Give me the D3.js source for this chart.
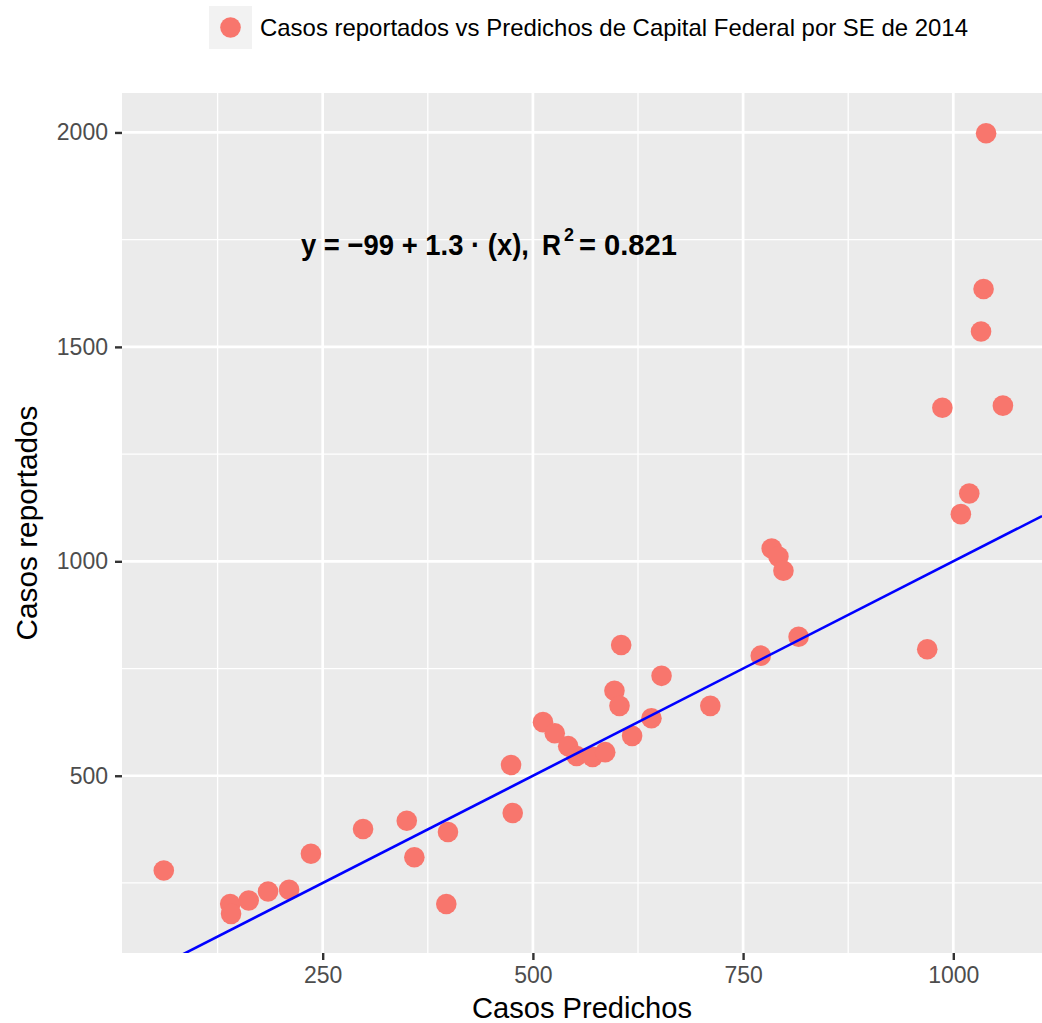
<!DOCTYPE html>
<html>
<head>
<meta charset="utf-8">
<script src="https://cdn.jsdelivr.net/npm/d3@7"></script>
<style>
  html, body { margin: 0; padding: 0; background: #ffffff; }
  svg { display: block; }
  text { font-family: "Liberation Sans", Arial, Helvetica, sans-serif; }
</style>
</head>
<body>
<svg id="chart" width="1042" height="1023"></svg>
<script>
// ---- data ----
const predichos = [61, 140, 141, 162, 185, 210, 236, 298, 350, 359, 397, 399, 474, 476, 512, 526, 542, 552, 571, 586, 597, 603, 605, 618, 641, 653, 711, 771, 784, 792, 798, 816, 969, 987, 1009, 1019, 1033, 1036, 1039, 1059];
const reportados = [279, 201, 178, 209, 230, 234, 318, 376, 395, 310, 201, 369, 525, 413, 625, 599, 569, 546, 544, 555, 698, 663, 805, 593, 634, 733, 663, 780, 1030, 1011, 978, 824, 795, 1358, 1110, 1158, 1536, 1635, 1998, 1363];
const xTicks = [250, 500, 750, 1000];
const yTicks = [500, 1000, 1500, 2000];
const xMinor = [125, 375, 625, 875];
const yMinor = [250, 750, 1250, 1750];
const xDomain = [11.3, 1105.5];
const yDomain = [86.7, 2092];
const refLine = { intercept: 0, slope: 1 };
const legendLabel = "Casos reportados vs Predichos de Capital Federal por SE de 2014";
const xTitle = "Casos Predichos";
const yTitle = "Casos reportados";
const eqParts = ["y = \u221299 + 1.3 \u00B7 (x),", "R", "2", "= 0.821"];

// ---- layout ----
const panel = { left: 122, right: 1042, top: 93, bottom: 953 };
const svg = d3.select("#chart");

const x = d3.scaleLinear().domain(xDomain).range([panel.left, panel.right]);
const y = d3.scaleLinear().domain(yDomain).range([panel.bottom, panel.top]);

// panel background
svg.append("rect")
  .attr("x", panel.left).attr("y", panel.top)
  .attr("width", panel.right - panel.left).attr("height", panel.bottom - panel.top)
  .attr("fill", "#EBEBEB");

svg.append("clipPath").attr("id", "clip")
  .append("rect")
  .attr("x", panel.left).attr("y", panel.top)
  .attr("width", panel.right - panel.left).attr("height", panel.bottom - panel.top);

const grid = svg.append("g");
grid.selectAll(".xminor").data(xMinor).join("line")
  .attr("x1", d => x(d)).attr("x2", d => x(d))
  .attr("y1", panel.top).attr("y2", panel.bottom)
  .attr("stroke", "#ffffff").attr("stroke-width", 1.3);
grid.selectAll(".yminor").data(yMinor).join("line")
  .attr("y1", d => y(d)).attr("y2", d => y(d))
  .attr("x1", panel.left).attr("x2", panel.right)
  .attr("stroke", "#ffffff").attr("stroke-width", 1.3);
grid.selectAll(".xmajor").data(xTicks).join("line")
  .attr("x1", d => x(d)).attr("x2", d => x(d))
  .attr("y1", panel.top).attr("y2", panel.bottom)
  .attr("stroke", "#ffffff").attr("stroke-width", 2.7);
grid.selectAll(".ymajor").data(yTicks).join("line")
  .attr("y1", d => y(d)).attr("y2", d => y(d))
  .attr("x1", panel.left).attr("x2", panel.right)
  .attr("stroke", "#ffffff").attr("stroke-width", 2.7);

// axes
const xAxis = d3.axisBottom(x).tickValues(xTicks).tickSize(7).tickPadding(7).tickFormat(d3.format("d"));
const yAxis = d3.axisLeft(y).tickValues(yTicks).tickSize(7).tickPadding(7).tickFormat(d3.format("d"));

const gx = svg.append("g").attr("transform", `translate(0,${panel.bottom})`).call(xAxis);
const gy = svg.append("g").attr("transform", `translate(${panel.left},0)`).call(yAxis);
[gx, gy].forEach(g => {
  g.select(".domain").remove();
  g.selectAll(".tick line").attr("stroke", "#333333").attr("stroke-width", 2.4);
  g.selectAll(".tick text").attr("fill", "#4D4D4D").attr("font-size", 23)
    .attr("font-family", '"Liberation Sans", Arial, sans-serif');
});

// points
svg.append("g").selectAll("circle")
  .data(predichos.map((p, i) => ({ x: p, y: reportados[i] })))
  .join("circle")
  .attr("cx", d => x(d.x)).attr("cy", d => y(d.y))
  .attr("r", 10.3)
  .attr("fill", "#F8766D");

// reference line
const lineGen = d3.line().x(d => x(d)).y(d => y(refLine.intercept + refLine.slope * d));
svg.append("path")
  .attr("clip-path", "url(#clip)")
  .attr("d", lineGen(xDomain))
  .attr("fill", "none").attr("stroke", "#0000FF").attr("stroke-width", 2.6);

// equation annotation: each piece scaled horizontally to its measured width
const eqG = svg.append("g").attr("font-weight", "bold").attr("fill", "#000000");
function fitPiece(str, px, py, size, width) {
  const t = eqG.append("text").attr("x", 0).attr("y", 0).attr("font-size", size).text(str);
  const natural = t.node().getComputedTextLength();
  const sx = width / natural;
  t.attr("transform", `translate(${px},${py}) scale(${sx},1)`);
  return t;
}
fitPiece(eqParts[0], 301, 255, 30, 228);
fitPiece(eqParts[1], 542, 255, 30, 19);
fitPiece(eqParts[2], 564, 241, 18, 10);
fitPiece(eqParts[3], 579, 255, 30, 98);

// axis titles
svg.append("text")
  .attr("x", (panel.left + panel.right) / 2).attr("y", 1018)
  .attr("text-anchor", "middle").attr("font-size", 29).attr("fill", "#000000")
  .attr("textLength", 220).attr("lengthAdjust", "spacingAndGlyphs")
  .text(xTitle);

svg.append("text")
  .attr("transform", `translate(37,${(panel.top + panel.bottom) / 2}) rotate(-90)`)
  .attr("text-anchor", "middle").attr("font-size", 29).attr("fill", "#000000")
  .attr("textLength", 235).attr("lengthAdjust", "spacingAndGlyphs")
  .text(yTitle);

// legend
const lg = svg.append("g");
lg.append("rect").attr("x", 209).attr("y", 6).attr("width", 43).attr("height", 43).attr("fill", "#F2F2F2");
lg.append("circle").attr("cx", 230.5).attr("cy", 27.5).attr("r", 10.3).attr("fill", "#F8766D");
lg.append("text").attr("x", 260).attr("y", 36).attr("font-size", 24).attr("fill", "#000000")
  .attr("textLength", 708).attr("lengthAdjust", "spacingAndGlyphs")
  .text(legendLabel);
</script>
</body>
</html>
